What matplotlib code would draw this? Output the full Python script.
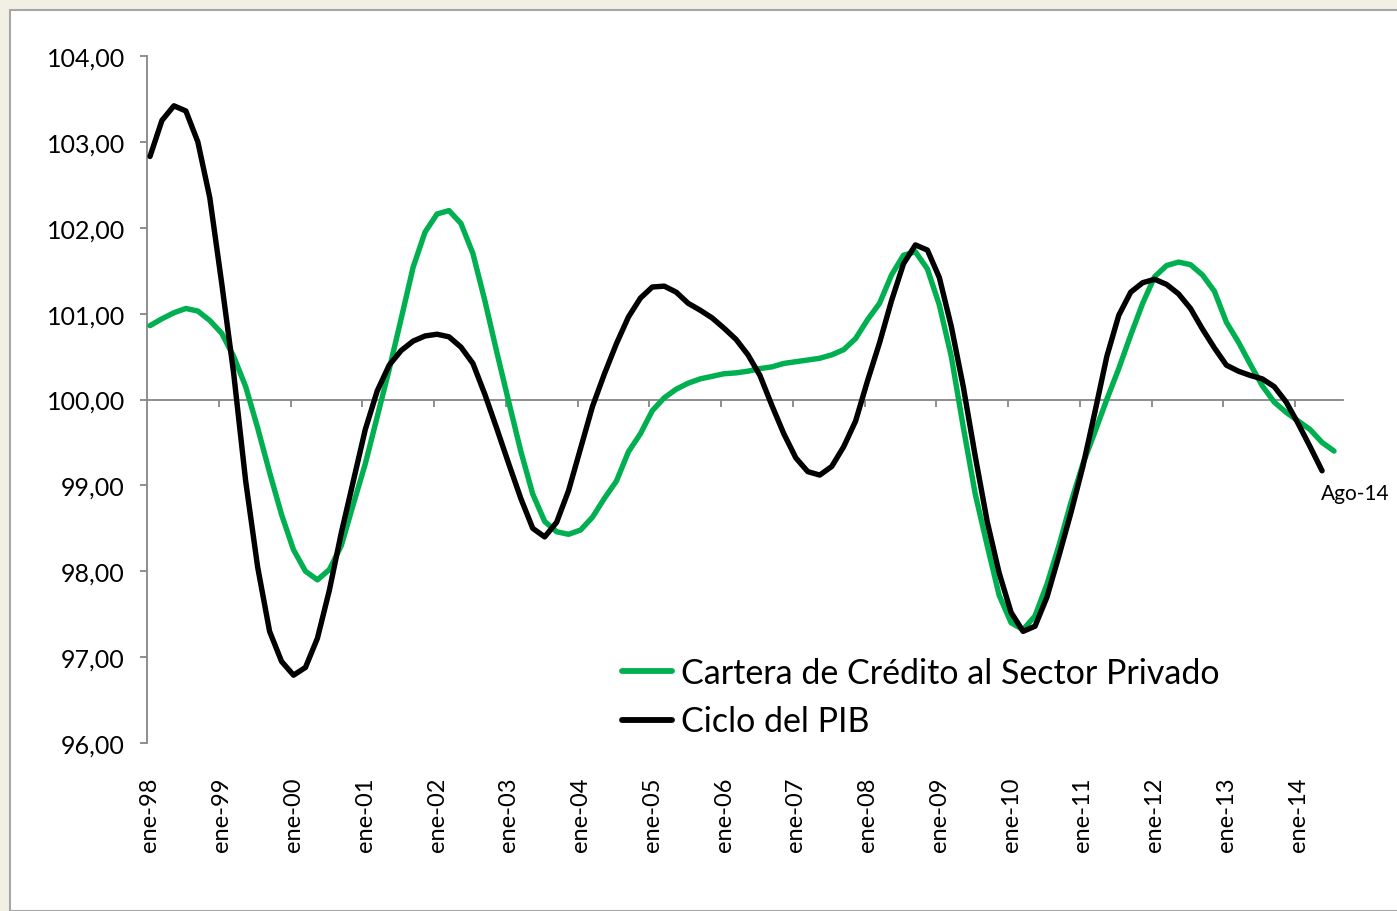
import numpy as np
import matplotlib.pyplot as plt
from matplotlib.patches import Rectangle

# --- datos (lecturas bimestrales desde ene-98) ---
meses_cartera = np.arange(0, 200, 2)
cartera = [
    100.86, 100.94, 101.01, 101.06, 101.03, 100.92, 100.77, 100.50, 100.15, 99.67,
    99.15, 98.66, 98.25, 98.00, 97.90, 98.02, 98.30, 98.78, 99.25, 99.80,
    100.35, 100.94, 101.54, 101.95, 102.16, 102.20, 102.05, 101.70, 101.15, 100.55,
    99.97, 99.40, 98.90, 98.58, 98.46, 98.43, 98.48, 98.63, 98.85, 99.05,
    99.39, 99.60, 99.87, 100.02, 100.12, 100.19, 100.24, 100.27, 100.30, 100.31,
    100.33, 100.36, 100.38, 100.42, 100.44, 100.46, 100.48, 100.52, 100.58, 100.71,
    100.93, 101.12, 101.45, 101.68, 101.72, 101.52, 101.10, 100.50, 99.68, 98.90,
    98.30, 97.72, 97.40, 97.32, 97.48, 97.85, 98.30, 98.80, 99.25, 99.62,
    100.00, 100.36, 100.75, 101.12, 101.43, 101.56, 101.60, 101.57, 101.45, 101.26,
    100.90, 100.67, 100.41, 100.16, 99.97, 99.85, 99.75, 99.65, 99.50, 99.40,
]

meses_pib = np.arange(0, 198, 2)
pib = [
    102.83, 103.25, 103.42, 103.36, 103.00, 102.35, 101.35, 100.30, 99.05, 98.05,
    97.30, 96.95, 96.79, 96.88, 97.22, 97.78, 98.45, 99.05, 99.65, 100.10,
    100.40, 100.57, 100.68, 100.74, 100.76, 100.73, 100.61, 100.42, 100.06, 99.66,
    99.25, 98.85, 98.50, 98.40, 98.57, 98.94, 99.43, 99.92, 100.30, 100.65,
    100.96, 101.18, 101.31, 101.32, 101.25, 101.12, 101.04, 100.95, 100.83, 100.70,
    100.52, 100.28, 99.93, 99.60, 99.32, 99.16, 99.12, 99.22, 99.45, 99.75,
    100.22, 100.66, 101.15, 101.58, 101.80, 101.74, 101.42, 100.85, 100.15, 99.34,
    98.58, 97.98, 97.52, 97.30, 97.36, 97.70, 98.18, 98.68, 99.22, 99.85,
    100.50, 100.98, 101.25, 101.36, 101.40, 101.34, 101.23, 101.06, 100.82, 100.60,
    100.40, 100.33, 100.28, 100.24, 100.15, 99.97, 99.72, 99.45, 99.17,
]

etiquetas_x = ['ene-98', 'ene-99', 'ene-00', 'ene-01', 'ene-02', 'ene-03', 'ene-04',
               'ene-05', 'ene-06', 'ene-07', 'ene-08', 'ene-09', 'ene-10', 'ene-11',
               'ene-12', 'ene-13', 'ene-14']
niveles_y = [96, 97, 98, 99, 100, 101, 102, 103, 104]

VERDE = '#00B050'
GRIS = '#868686'
plt.rcParams['font.family'] = ['Lato', 'DejaVu Sans']

fig = plt.figure(figsize=(13.97, 9.12), dpi=100, facecolor='#f2efe4')
fig.patches.append(Rectangle((10 / 1397, 0), 1, (912 - 11) / 912, transform=fig.transFigure,
                             facecolor='white', edgecolor='#a6a6a6', lw=1.5, zorder=-10))

ax = fig.add_axes([147 / 1397, (912 - 744) / 912, 1196 / 1397, 687 / 912])
ax.set_facecolor('none')

ax.plot(meses_cartera + 0.5, cartera, color=VERDE, lw=3.9, solid_capstyle='round',
        solid_joinstyle='round', label='Cartera de Crédito al Sector Privado', zorder=3)
ax.plot(meses_pib + 0.5, pib, color='black', lw=3.9, solid_capstyle='round',
        solid_joinstyle='round', label='Ciclo del PIB', zorder=4)

ax.set_xlim(0, 200)
ax.set_ylim(96, 104)

# eje y
ax.set_yticks(niveles_y)
ax.set_yticklabels([f'{v:.2f}'.replace('.', ',') for v in niveles_y], fontsize=18)
ax.tick_params(axis='y', direction='out', length=5, width=1.3, color=GRIS, pad=11)
for s in ['top', 'right', 'bottom']:
    ax.spines[s].set_visible(False)
ax.spines['left'].set_color(GRIS)
ax.spines['left'].set_linewidth(1.3)

# etiquetas de categoria abajo
ax.set_xticks(np.arange(len(etiquetas_x)) * 12 + 0.5)
ax.set_xticklabels(etiquetas_x, rotation=90, fontsize=17)
ax.tick_params(axis='x', length=0, pad=24)

# eje horizontal en 100
eje = ax.secondary_xaxis(0.5)
eje.set_alignment('bottom')
eje.xaxis.set_ticks_position('bottom')
eje.set_xticks(np.arange(1, len(etiquetas_x)) * 12)
eje.set_xticklabels([])
eje.tick_params(axis='x', which='both', direction='out', length=5, width=1.3,
                color=GRIS, bottom=True, top=False)
for s in eje.spines.values():
    s.set_color(GRIS)
    s.set_linewidth(1.3)

ax.annotate('Ago-14', xy=(meses_pib[-1] + 0.5, pib[-1]), xytext=(24, -20),
            textcoords='offset points', ha='center', fontsize=15)

leg = ax.legend(loc='upper left', bbox_to_anchor=(0.397, 0.125), frameon=False,
                fontsize=24.5, handlelength=1.47, handletextpad=0.26, labelspacing=0.48,
                borderaxespad=0, borderpad=0)
for h in leg.legend_handles:
    h.set_linewidth(4.2)

fig.savefig('out.png', dpi=100, facecolor=fig.get_facecolor())
